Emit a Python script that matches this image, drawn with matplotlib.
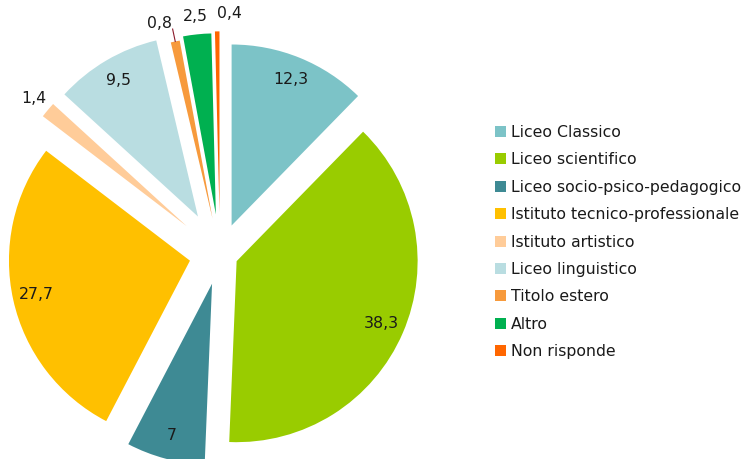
import numpy as np
import matplotlib
matplotlib.use("Agg")
import matplotlib.pyplot as plt

categories = ['Liceo Classico', 'Liceo scientifico', 'Liceo socio-psico-pedagogico',
              'Istituto tecnico-professionale', 'Istituto artistico', 'Liceo linguistico',
              'Titolo estero', 'Altro', 'Non risponde']
values = [12.3, 38.3, 7, 27.7, 1.4, 9.5, 0.8, 2.5, 0.4]
colors = ['#7CC3C7', '#99CC00', '#3E8A94', '#FFC000', '#FFCC99',
          '#B9DDE1', '#F79A3C', '#00B050', '#FF6600']

explode = [0.17, 0.1, 0.17, 0.17, 0.24, 0.24, 0.2, 0.22, 0.23]
inside = [True, True, True, True, False, True, False, False, False]
halign = ['center', 'center', 'center', 'center', 'center', 'center', 'right', 'center', 'left']

plt.rcParams['font.family'] = ['DejaVu Sans']
fs = 11.3

W, H = 747, 459
fig = plt.figure(figsize=(W / 100, H / 100), dpi=100)
ax = fig.add_axes([0, 0, 1, 1])

wedges, _ = ax.pie(values, colors=colors, explode=explode, startangle=90,
                   counterclock=False, radius=1.0,
                   wedgeprops=dict(linewidth=0))

for w, v, ex, ins, ha in zip(wedges, values, explode, inside, halign):
    mid = np.deg2rad((w.theta1 + w.theta2) / 2)
    d = np.array([np.cos(mid), np.sin(mid)])
    c = ex * d
    lab = f"{v:g}".replace('.', ',')
    if ins:
        p = c + 0.87 * d
        ax.text(p[0], p[1], lab, ha='center', va='center', fontsize=fs, color='#1a1a1a')
    else:
        p = c + 1.1 * d
        ax.text(p[0], p[1], lab, ha=ha, va='center', fontsize=fs, color='#1a1a1a')
        if v < 1 and ha == 'right':
            a = c + 1.0 * d
            b = c + 1.07 * d
            ax.plot([a[0], b[0]], [a[1], b[1]], color='#8B1A2B', lw=0.8)

# pixel geometry: centre at (220, 254), radius 181 px
cx, cy, r = 220, 254, 181
ax.set_xlim(-cx / r, (W - cx) / r)
ax.set_ylim(-(H - cy) / r, cy / r)
ax.set_aspect('equal', adjustable='box')
ax.axis('off')

leg = ax.legend(wedges, categories, loc='upper left',
                bbox_to_anchor=(495 / W, 1 - 125 / H), bbox_transform=fig.transFigure,
                frameon=False, fontsize=fs, handlelength=0.7, handleheight=0.7,
                handletextpad=0.3, labelspacing=0.79, borderaxespad=0, borderpad=0)
for t in leg.get_texts():
    t.set_color('#1a1a1a')

fig.savefig('out.png', dpi=100)
